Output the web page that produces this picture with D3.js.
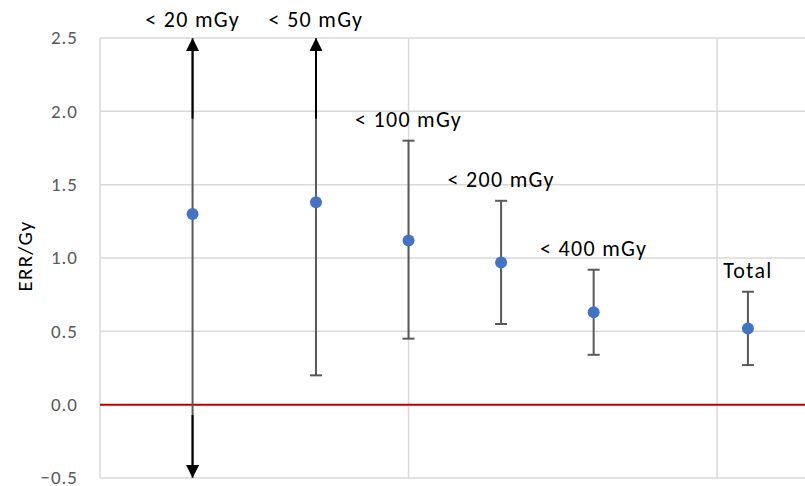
<!DOCTYPE html>
<html>
<head>
<meta charset="utf-8">
<script src="https://cdn.jsdelivr.net/npm/d3@7"></script>
<style>
  body { margin: 0; background: #fff; }
  svg text { font-family: Calibri, Carlito, Lato, sans-serif; }
  .tick text { fill: #595959; font-size: 19px; letter-spacing: 1px; }
  .label { font-size: 22px; fill: #000; letter-spacing: 1.3px; }
</style>
</head>
<body>
<div id="chart"></div>
<script>
// data
const labels = ["< 20 mGy", "< 50 mGy", "< 100 mGy", "< 200 mGy", "< 400 mGy", "Total"];
const xPos   = [0.3, 0.7, 1.0, 1.3, 1.6, 2.1];
const err    = [1.30, 1.38, 1.12, 0.97, 0.63, 0.52];
const upper  = [null, null, 1.80, 1.39, 0.92, 0.77];   // null = off the chart (arrow)
const lower  = [null, 0.20, 0.45, 0.55, 0.34, 0.27];
const yTicks = [-0.5, 0.0, 0.5, 1.0, 1.5, 2.0, 2.5];
const xGrid  = [0, 1, 2];

const W = 805, H = 486;
const margin = {top: 38, right: 0, bottom: 8, left: 100};

const svg = d3.select("#chart").append("svg")
    .attr("width", W)
    .attr("height", H);

const x = d3.scaleLinear()
    .domain([0, 2.285])
    .range([margin.left, W - margin.right]);

const y = d3.scaleLinear()
    .domain([-0.5, 2.5])
    .range([H - margin.bottom, margin.top]);

// horizontal grid
svg.selectAll("line.hgrid").data(yTicks)
    .enter().append("line")
    .attr("class", "hgrid")
    .attr("x1", x.range()[0]).attr("x2", x.range()[1])
    .attr("y1", d => y(d)).attr("y2", d => y(d))
    .attr("stroke", "#d9d9d9")
    .attr("stroke-width", 1.5);

// vertical grid
svg.selectAll("line.vgrid").data(xGrid)
    .enter().append("line")
    .attr("class", "vgrid")
    .attr("x1", d => x(d)).attr("x2", d => x(d))
    .attr("y1", y(2.5)).attr("y2", y(-0.5))
    .attr("stroke", "#d9d9d9")
    .attr("stroke-width", 1.5);

// y axis labels
const yAxis = svg.append("g")
    .attr("transform", "translate(" + (margin.left - 19) + ",0)")
    .call(d3.axisLeft(y).tickValues(yTicks).tickFormat(d3.format(".1f")).tickSize(0));
yAxis.select(".domain").remove();
yAxis.selectAll("text").attr("dx", 0).attr("dy", "0.3em");

svg.append("text")
    .attr("transform", "translate(32," + (y(1.0) - 2) + ") rotate(-90)")
    .attr("text-anchor", "middle")
    .attr("font-size", 21)
    .attr("letter-spacing", 1.2)
    .attr("fill", "#000")
    .text("ERR/Gy");

// zero line
svg.append("line")
    .attr("x1", x.range()[0]).attr("x2", x.range()[1])
    .attr("y1", y(0)).attr("y2", y(0))
    .attr("stroke", "#c00000")
    .attr("stroke-width", 2);

// error bars
const idx = d3.range(labels.length);
const hi = i => upper[i] === null ? 2.5 : upper[i];
const lo = i => lower[i] === null ? -0.5 : lower[i];

svg.selectAll("line.err").data(idx)
    .enter().append("line")
    .attr("class", "err")
    .attr("x1", i => x(xPos[i])).attr("x2", i => x(xPos[i]))
    .attr("y1", i => y(hi(i))).attr("y2", i => y(lo(i)))
    .attr("stroke", "#595959")
    .attr("stroke-width", 2);

const caps = [];
idx.forEach(i => {
    if (upper[i] !== null) caps.push([xPos[i], upper[i]]);
    if (lower[i] !== null) caps.push([xPos[i], lower[i]]);
});
svg.selectAll("line.cap").data(caps)
    .enter().append("line")
    .attr("class", "cap")
    .attr("x1", d => x(d[0]) - 6).attr("x2", d => x(d[0]) + 6)
    .attr("y1", d => y(d[1])).attr("y2", d => y(d[1]))
    .attr("stroke", "#595959")
    .attr("stroke-width", 2);

// arrows for bars that run off the chart
const arrows = [];
idx.forEach(i => {
    if (upper[i] === null) arrows.push({x: xPos[i], from: 1.95, to: 2.5, dir: -1});
    if (lower[i] === null) arrows.push({x: xPos[i], from: -0.07, to: -0.5, dir: 1});
});
svg.selectAll("line.arrow").data(arrows)
    .enter().append("line")
    .attr("class", "arrow")
    .attr("x1", d => x(d.x)).attr("x2", d => x(d.x))
    .attr("y1", d => y(d.from)).attr("y2", d => y(d.to) - d.dir * 8)
    .attr("stroke", "#000")
    .attr("stroke-width", 2);
svg.selectAll("path.head").data(arrows)
    .enter().append("path")
    .attr("class", "head")
    .attr("d", d => {
        const cx = x(d.x), ty = y(d.to);
        return "M" + cx + "," + ty + "L" + (cx - 6.5) + "," + (ty - d.dir * 13) +
               "L" + (cx + 6.5) + "," + (ty - d.dir * 13) + "Z";
    })
    .attr("fill", "#000");

// points
svg.selectAll("circle.pt").data(idx)
    .enter().append("circle")
    .attr("class", "pt")
    .attr("cx", i => x(xPos[i]))
    .attr("cy", i => y(err[i]))
    .attr("r", 6)
    .attr("fill", "#4472c4");

// labels
svg.selectAll("text.label").data(idx)
    .enter().append("text")
    .attr("class", "label")
    .attr("x", i => x(xPos[i]))
    .attr("y", i => upper[i] === null ? y(2.5) - 11 : y(upper[i]) - 14)
    .attr("text-anchor", "middle")
    .text(i => labels[i]);
</script>
</body>
</html>
